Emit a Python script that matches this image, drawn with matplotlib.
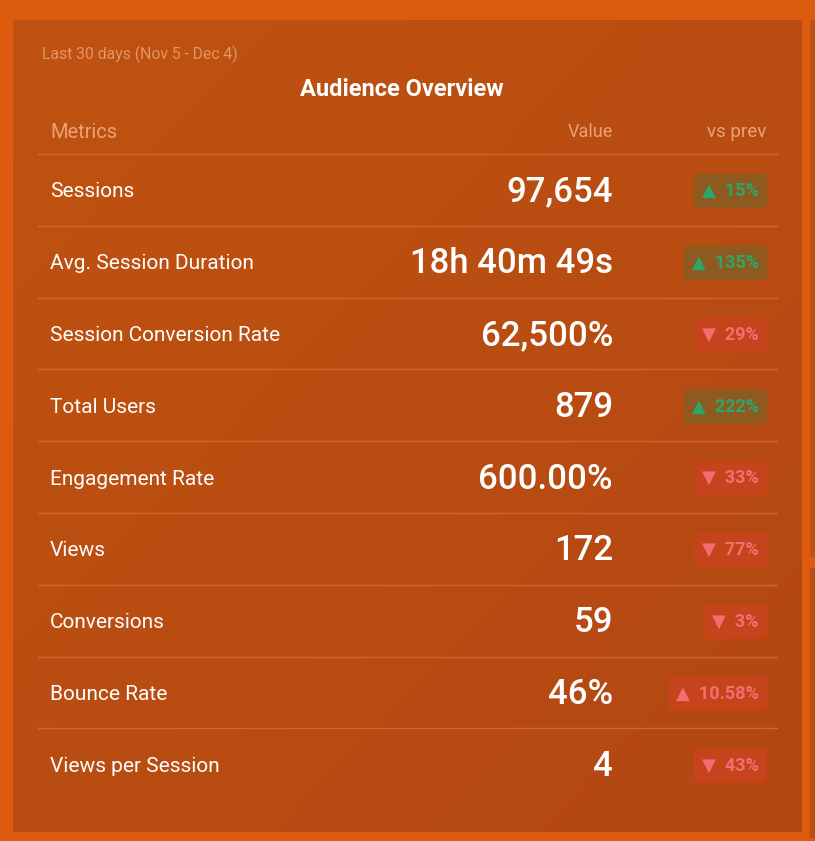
import numpy as np
import matplotlib
matplotlib.use("Agg")
from matplotlib import pyplot as plt
from matplotlib.patches import Rectangle

plt.rcParams['font.family'] = ['Roboto', 'DejaVu Sans']

METRICS = ['Sessions', 'Avg. Session Duration', 'Session Conversion Rate',
           'Total Users', 'Engagement Rate', 'Views', 'Conversions',
           'Bounce Rate', 'Views per Session']
VALUES = ['97,654', '18h 40m 49s', '62,500%', '879', '600.00%',
          '172', '59', '46%', '4']
CHANGES = ['15%', '135%', '29%', '222%', '33%', '77%', '3%', '10.58%', '43%']
DIRECTION = ['up', 'up', 'down', 'up', 'down', 'down', 'down', 'up', 'down']
GOOD = [True, True, False, True, False, False, False, False, False]

TITLE = 'Audience Overview'
SUBTITLE = 'Last 30 days (Nov 5 - Dec 4)'
HEADERS = ['Metrics', 'Value', 'vs prev']

W, H = 815, 841
BG = '#dc5b0e'

fig = plt.figure(figsize=(W / 100, H / 100), dpi=100, facecolor=BG)
ax = fig.add_axes([0, 0, 1, 1])
ax.axis('off')

# main panel with a soft diagonal gradient
px0, px1, py0, py1 = 13, 802, 20, 832
gx, gy = np.meshgrid(np.linspace(0, 1, 200), np.linspace(0, 1, 200))
g = (gx + gy) / 2
c0 = np.array(matplotlib.colors.to_rgb('#c05310'))
c1 = np.array(matplotlib.colors.to_rgb('#b34713'))
img = c0[None, None, :] * (1 - g[..., None]) + c1[None, None, :] * g[..., None]
ax.imshow(img, extent=[px0, px1, py1, py0], aspect='auto', zorder=1,
          interpolation='bilinear')

# neighbouring panels peeking in on the right
ax.add_patch(Rectangle((810, 20), 10, 537, fc='#bf5210', ec='none', zorder=1))
ax.add_patch(Rectangle((810, 568), 10, 270, fc='#bb4e11', ec='none', zorder=1))

ax.set_xlim(0, W)
ax.set_ylim(H, 0)

ax.text(42, 54, SUBTITLE, fontsize=11.3, color='#e39567',
        va='center', ha='left', zorder=3)
ax.text(402, 89, TITLE, fontsize=17, color='white', fontweight='bold',
        va='center', ha='center', zorder=3)

head_y = 132
hc = '#e8a27a'
ax.text(50, head_y, HEADERS[0], fontsize=14.5, color=hc,
        va='center', ha='left', zorder=3)
ax.text(613, head_y, HEADERS[1], fontsize=13, color=hc,
        va='center', ha='right', zorder=3)
ax.text(766, head_y, HEADERS[2], fontsize=13.5, color=hc,
        va='center', ha='right', zorder=3)

row_h = 71.8
first_line = 154
line_col = '#d0682e'
ax.plot([38, 777], [first_line, first_line], color=line_col, lw=1, zorder=2)

for i, (m, v, c, d, good) in enumerate(zip(METRICS, VALUES, CHANGES,
                                              DIRECTION, GOOD)):
    yc = first_line + row_h * (i + 0.5) + 2
    if i < len(METRICS) - 1:
        yl = first_line + row_h * (i + 1)
        ax.plot([38, 777], [yl, yl], color=line_col, lw=1, zorder=2)
    ax.text(50, yc, m, fontsize=15, color='white', va='center',
            ha='left', zorder=3)
    ax.text(613, yc, v, fontsize=25, color='white', fontweight='medium',
            va='center', ha='right', zorder=3)
    arrow = '\u25b2' if d == 'up' else '\u25bc'
    if good:
        fc, tc = '#8e5a1f', '#2aa86a'
    else:
        fc, tc = '#c6431b', '#f07072'
    ax.text(759, yc - 1, arrow + '  ' + c, fontsize=13, color=tc,
            fontweight='bold', va='center', ha='right', zorder=4,
            bbox=dict(boxstyle='round,pad=0.45,rounding_size=0.2',
                      fc=fc, ec='none'))

fig.savefig('out.png', dpi=100, facecolor=BG)
